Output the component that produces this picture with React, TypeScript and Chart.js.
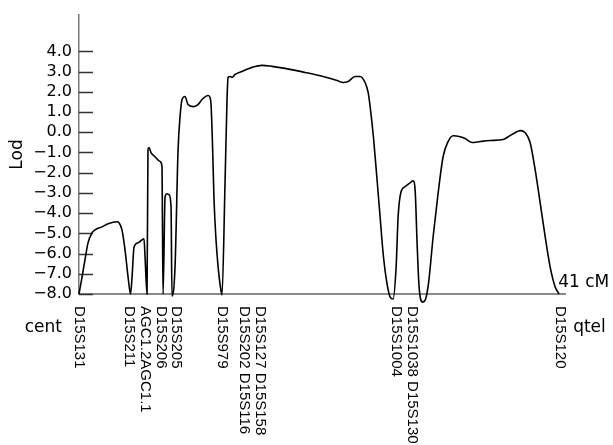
import React, { useEffect, useRef } from 'react';
import { Chart, registerables } from 'chart.js';

Chart.register(...registerables);

// Map position along the chromosome (cM)
const positions = [
  0, 0.26, 0.51, 0.77, 1.11, 1.37, 1.96, 2.48, 3.25, 3.42, 3.67, 3.93, 4.19, 4.4, 4.53, 4.7, 5.04, 5.38, 5.55, 5.64,
  5.81, 5.89, 5.98, 6.15, 6.49, 6.92, 7.09, 7.13, 7.18, 7.35, 7.52, 7.69, 7.86, 7.94, 8.2, 8.46, 8.63, 8.8, 9.05, 9.31,
  9.74, 10.16, 10.51, 11.02, 11.19, 11.28, 11.4, 11.53, 11.7, 11.87, 12.04, 12.21, 12.47, 12.64, 12.73, 12.9, 13.07,
  13.33, 13.92, 14.78, 15.63, 16.49, 17.6, 19.3, 20.84, 22.04, 22.55, 22.98, 23.58, 24.0, 24.43, 24.69, 24.86, 25.14,
  25.43, 25.71, 26.0, 26.29, 26.57, 26.82, 27.08, 27.25, 27.5, 27.85, 28.27, 28.53, 28.7, 28.87, 29.04, 29.34, 29.6,
  29.85, 30.24, 30.67, 31.09, 31.52, 31.95, 32.55, 32.97, 33.57, 34.25, 35.11, 36.22, 36.65, 37.24, 37.67, 38.1, 38.52,
  38.95, 39.38, 39.81, 40.23, 40.66, 41.0,
];

// LOD score at each position
const lodScores = [
  -8.0, -7.16, -6.31, -5.47, -4.98, -4.83, -4.68, -4.53, -4.43, -4.48, -4.83, -5.82, -7.16, -8.0, -7.16, -5.67, -5.47,
  -5.32, -5.27, -6.17, -8.0, -0.86, -0.76, -1.01, -1.21, -1.45, -1.7, -4.83, -8.0, -3.19, -3.04, -3.09, -3.69, -8.1,
  -6.66, -0.86, 0.78, 1.62, 1.77, 1.37, 1.27, 1.37, 1.62, 1.82, 1.72, 1.32, -0.61, -3.34, -5.32, -6.61, -7.5, -8.05,
  -2.5, 1.62, 2.71, 2.76, 2.71, 2.86, 3.01, 3.21, 3.31, 3.26, 3.16, 2.96, 2.76, 2.56, 2.46, 2.51, 2.76, 2.76, 2.46,
  1.97, 1.27, -0.22, -2.2, -4.18, -6.17, -7.45, -8.15, -8.25, -6.66, -4.18, -2.94, -2.69, -2.5, -2.4, -2.84, -5.47,
  -7.65, -8.4, -8.25, -7.45, -5.17, -2.99, -1.21, -0.46, -0.17, -0.22, -0.31, -0.51, -0.46, -0.41, -0.36, -0.22, -0.02,
  0.08, -0.02, -0.51, -1.85, -3.49, -5.17, -6.66, -7.65, -8.0,
];

// Marker labels and their map positions (cM)
const markerNames = [
  'D15S131', 'D15S211', 'AGC1.2AGC1.1', 'D15S206', 'D15S205', 'D15S979', 'D15S202 D15S116', 'D15S127 D15S158',
  'D15S1004', 'D15S1038 D15S130', 'D15S120',
];
const markerPos = [0, 4.27, 5.68, 7.0, 8.29, 12.21, 14.09, 15.46, 27.08, 28.44, 41.1];

const yTickValues = [-8, -7, -6, -5, -4, -3, -2, -1, 0, 1, 2, 3, 4];
const X_MIN = 0;
const X_MAX = 41.5;
const Y_MIN = -8;
const Y_MAX = 5.8;
const END_CM = 41;
const END_LABEL = '41 cM';
const LEFT_LABEL = 'cent';
const RIGHT_LABEL = 'qtel';
const Y_TITLE = 'Lod';

const fmt = (v: number) => (v < 0 ? '\u2212' + Math.abs(v).toFixed(1) : v.toFixed(1));

const decorPlugin = {
  id: 'decor',
  beforeDatasetsDraw(chart: any) {
    const { ctx, chartArea, scales } = chart;
    const y = scales.y;
    ctx.save();
    ctx.strokeStyle = '#333';
    ctx.lineWidth = 1.5;
    yTickValues.forEach((v) => {
      const py = Math.round(y.getPixelForValue(v)) + 0.5;
      ctx.beginPath();
      ctx.moveTo(chartArea.left, py);
      ctx.lineTo(chartArea.left + 14, py);
      ctx.stroke();
    });
    ctx.restore();
  },
  afterDraw(chart: any) {
    const { ctx, chartArea, scales } = chart;
    const x = scales.x;
    const y = scales.y;
    ctx.save();
    ctx.fillStyle = '#000';
    // marker labels, rotated clockwise
    ctx.font = '15px "Liberation Sans", Arial, sans-serif';
    ctx.textAlign = 'left';
    ctx.textBaseline = 'middle';
    markerNames.forEach((name, i) => {
      const px = x.getPixelForValue(markerPos[i]);
      ctx.save();
      ctx.translate(px, chartArea.bottom + 12);
      ctx.rotate(Math.PI / 2);
      ctx.fillText(name, 0, 0);
      ctx.restore();
    });
    ctx.font = '17px "DejaVu Sans", sans-serif';
    ctx.textBaseline = 'alphabetic';
    ctx.textAlign = 'right';
    ctx.fillText(LEFT_LABEL, chartArea.left - 17, chartArea.bottom + 38);
    ctx.textAlign = 'left';
    ctx.fillText(RIGHT_LABEL, x.getPixelForValue(END_CM) + 14, chartArea.bottom + 38);
    ctx.fillText(END_LABEL, x.getPixelForValue(END_CM) - 1, y.getPixelForValue(Y_MIN) - 7);
    // y title
    ctx.save();
    ctx.translate(18, (chartArea.top + chartArea.bottom) / 2);
    ctx.rotate(-Math.PI / 2);
    ctx.textAlign = 'center';
    ctx.textBaseline = 'middle';
    ctx.fillText(Y_TITLE, 0, 0);
    ctx.restore();
    ctx.restore();
  },
};

export default function App() {
  const canvasRef = useRef<HTMLCanvasElement | null>(null);

  useEffect(() => {
    if (!canvasRef.current) return;
    const chart = new Chart(canvasRef.current, {
      type: 'line',
      data: {
        datasets: [
          {
            data: positions.map((p, i) => ({ x: p, y: lodScores[i] })),
            borderColor: '#000',
            borderWidth: 1.6,
            pointRadius: 0,
            fill: false,
            cubicInterpolationMode: 'monotone',
            clip: false as any,
          },
        ],
      },
      options: {
        responsive: false,
        animation: false,
        devicePixelRatio: 1,
        layout: { padding: { top: 15, right: 48, left: 0, bottom: 0 } },
        plugins: { legend: { display: false }, tooltip: { enabled: false } },
        scales: {
          x: {
            type: 'linear',
            min: X_MIN,
            max: X_MAX,
            grid: { display: false, drawTicks: false },
            ticks: { display: false },
            border: { display: true, color: '#8a8a8a', width: 2 },
            afterFit: (s: any) => {
              s.height = 151;
              s.paddingLeft = 0;
              s.paddingRight = 0;
            },
          },
          y: {
            type: 'linear',
            min: Y_MIN,
            max: Y_MAX,
            grid: { display: false, drawTicks: false },
            border: { display: true, color: '#777', width: 1.5 },
            afterBuildTicks: (s: any) => {
              s.ticks = yTickValues.map((v) => ({ value: v }));
            },
            ticks: {
              padding: 7,
              color: '#000',
              font: { family: '"DejaVu Sans", sans-serif', size: 16 },
              callback: (v: any) => fmt(Number(v)),
            },
            afterFit: (s: any) => {
              s.width = 79;
              s.paddingTop = 0;
              s.paddingBottom = 0;
            },
          },
        },
      },
      plugins: [decorPlugin],
    });
    return () => chart.destroy();
  }, []);

  return (
    <div style={{ position: 'fixed', left: 0, top: 0, width: 613, height: 445, background: '#fff' }}>
      <canvas ref={canvasRef} width={613} height={445} style={{ display: 'block' }} />
    </div>
  );
}
